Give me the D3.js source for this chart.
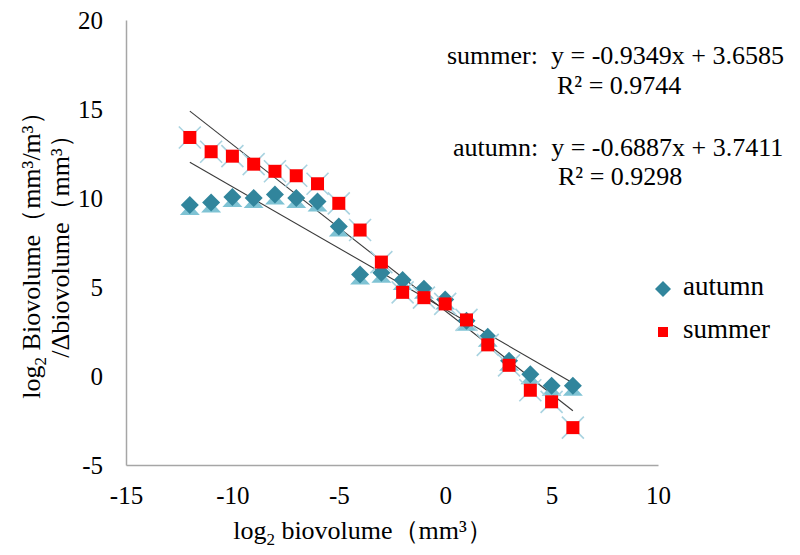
<!DOCTYPE html>
<html><head><meta charset="utf-8">
<script src="https://cdn.jsdelivr.net/npm/d3@7"></script>
<style>body{margin:0;background:#fff}svg{display:block}text{font-family:"Liberation Serif","Times New Roman",serif;fill:#000;white-space:pre}</style>
</head><body>
<script>
const sizeClasses = [-12,-11,-10,-9,-8,-7,-6,-5,-4,-3,-2,-1,0,1,2,3,4,5,6];
const summer = [13.4,12.6,12.35,11.9,11.5,11.25,10.8,9.7,8.2,6.4,4.7,4.4,4.05,3.15,1.75,0.6,-0.8,-1.45,-2.9];
const autumn = [9.6,9.75,10.05,10.0,10.2,10.0,9.8,8.4,5.7,5.8,5.4,4.9,4.3,3.1,2.2,0.85,0.1,-0.55,-0.55];
const xTicks = [-15,-10,-5,0,5,10];
const yTicks = [-5,0,5,10,15,20];
const fits = [
  {name:"summer", slope:-0.9349, intercept:3.6585, r2:"0.9744"},
  {name:"autumn", slope:-0.6887, intercept:3.7411, r2:"0.9298"}
];

const W=800,H=555;
const svg=d3.select("body").append("svg").attr("width",W).attr("height",H)
  .attr("font-family","Liberation Serif");
const x=d3.scaleLinear().domain([-15,10]).range([126,658]);
const y=d3.scaleLinear().domain([-5,20]).range([465,20]);
const fmt=d=>String(d);

// axes
const gx=svg.append("g").attr("transform","translate(0,465)")
  .call(d3.axisBottom(x).tickValues(xTicks).tickSize(0).tickPadding(21).tickFormat(fmt));
const gy=svg.append("g").attr("transform","translate(126,0)")
  .call(d3.axisLeft(y).tickValues(yTicks).tickSize(0).tickPadding(23).tickFormat(fmt));
[gx,gy].forEach(g=>{
  g.attr("font-family","Liberation Serif");
  g.select(".domain").attr("stroke","#a6a6a6").attr("stroke-width",1.5);
  g.selectAll("text").attr("font-size",25).attr("fill","#000");
});

// trendlines
fits.forEach(f=>{
  const ext=d3.extent(sizeClasses);
  svg.append("path")
    .attr("d",d3.line()(ext.map(v=>[x(v),y(f.slope*v+f.intercept)])))
    .attr("stroke","#3a3a3a").attr("stroke-width",1.1).attr("fill","none");
});

// autumn markers
const ga=svg.append("g");
sizeClasses.forEach((v,i)=>{
  const cx=x(v), cy=y(autumn[i]);
  ga.append("path").attr("d",`M${cx},${cy-1}L${cx+10},${cy+10}L${cx-10},${cy+10}Z`).attr("fill","#7fc3d4");
  ga.append("path").attr("d",`M${cx},${cy-9}L${cx+9},${cy}L${cx},${cy+9}L${cx-9},${cy}Z`).attr("fill","#31859c");
});
// summer markers
const gs=svg.append("g");
sizeClasses.forEach((v,i)=>{
  const cx=x(v), cy=y(summer[i]);
  gs.append("path").attr("d",`M${cx-11},${cy-11}L${cx+11},${cy+11}M${cx+11},${cy-11}L${cx-11},${cy+11}`)
    .attr("stroke","#a9d3e0").attr("stroke-width",1.6);
  gs.append("rect").attr("x",cx-6.5).attr("y",cy-6.5).attr("width",13).attr("height",13).attr("fill","#ff0000");
});

// equations
const eq=svg.append("g").attr("font-size",26);
eq.append("text").attr("x",447).attr("y",64).text("summer:  y = -0.9349x + 3.6585");
eq.append("text").attr("x",557).attr("y",94).text("R² = 0.9744");
eq.append("text").attr("x",453).attr("y",156).text("autumn:  y = -0.6887x + 3.7411");
eq.append("text").attr("x",558).attr("y",185).text("R² = 0.9298");

// legend
svg.append("path").attr("d","M663,281L671,289L663,297L655,289Z").attr("fill","#31859c");
svg.append("text").attr("x",683).attr("y",295).attr("font-size",27).text("autumn");
svg.append("rect").attr("x",658).attr("y",327).attr("width",10).attr("height",10).attr("fill","#ff0000");
svg.append("text").attr("x",683).attr("y",338).attr("font-size",27).text("summer");

// x title
const xt=svg.append("text").attr("x",363).attr("y",539).attr("text-anchor","middle").attr("font-size",26);
xt.append("tspan").text("log");
xt.append("tspan").attr("font-size",17).attr("dy",6).text("2");
xt.append("tspan").attr("dy",-6).text(" biovolume（mm³）");

// y title
const yt=svg.append("g").attr("transform","rotate(-90)");
const t1=yt.append("text").attr("x",-249).attr("y",40).attr("text-anchor","middle").attr("font-size",26);
t1.append("tspan").text("log");
t1.append("tspan").attr("font-size",17).attr("dy",6).text("2");
t1.append("tspan").attr("dy",-6).text(" Biovolume（mm³/m³）");
yt.append("text").attr("x",-240).attr("y",69).attr("text-anchor","middle").attr("font-size",26).text("/Δbiovolume（mm³）");
</script>
</body></html>
